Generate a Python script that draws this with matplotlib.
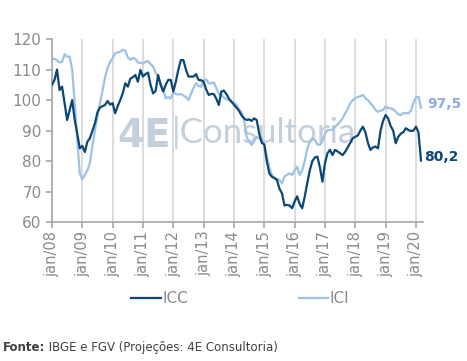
import numpy as np
import matplotlib.pyplot as plt

# monthly values, jan/08 .. mar/20
icc = [105.0, 106.6, 110.0, 103.3, 104.4, 99.0, 93.5, 96.8, 100.0, 93.5, 89.0, 84.2,
       85.0, 83.0, 86.4, 87.5, 90.0, 92.4, 96.0, 97.6, 98.0, 98.4, 99.7, 98.5,
       99.0, 95.7, 98.0, 100.0, 102.2, 105.5, 104.4, 107.0, 107.5, 108.2, 106.0, 109.9,
       107.7, 108.5, 109.0, 105.0, 102.2, 103.0, 108.2, 105.0, 102.8, 105.0, 106.6, 106.6,
       102.8, 106.0, 110.0, 113.1, 113.1, 110.0, 107.7, 107.7, 107.7, 108.5, 106.6, 106.5,
       106.0, 103.5, 101.7, 102.0, 102.0, 100.5, 98.4, 102.8, 103.1, 102.0, 100.5, 99.5,
       98.5, 97.5, 96.5, 95.0, 94.0, 93.5, 93.7, 93.2, 94.0, 93.5, 89.0, 86.0,
       85.5, 80.0, 76.0, 74.9, 74.5, 73.9, 71.0, 69.5, 65.5, 65.7, 65.5, 64.6,
       66.8, 68.5, 66.0, 64.6, 68.4, 72.8, 77.0, 80.0, 81.2, 81.5, 78.0, 73.3,
       79.3, 82.6, 83.7, 82.0, 83.7, 83.2, 82.6, 82.0, 83.1, 84.5, 86.0, 87.5,
       88.0, 88.4, 90.0, 91.3, 89.5, 86.0, 83.7, 84.5, 84.8, 84.2, 90.0, 93.2,
       95.1, 94.0, 91.5, 90.0, 85.9, 88.0, 89.0, 89.5, 90.8, 90.2, 89.9, 90.0,
       91.3, 89.5, 80.2]

ici = [113.5, 113.5, 113.0, 112.3, 112.5, 115.0, 114.2, 114.2, 110.0, 99.0, 87.0, 76.0,
       74.0, 75.5, 77.0, 79.5, 85.0, 90.0, 95.0, 99.0, 103.0, 107.5, 110.5, 112.5,
       113.7, 115.3, 115.6, 115.8, 116.5, 116.2, 114.0, 113.2, 113.8, 113.5, 112.3, 112.2,
       112.0, 112.5, 112.8, 111.8, 111.0, 109.0, 107.5, 105.5, 103.5, 100.6, 101.0, 100.5,
       102.5, 102.0, 101.8, 102.0, 101.5, 101.0, 100.0, 102.0, 104.0, 105.5, 104.6, 104.4,
       106.5, 106.8, 105.5, 105.5, 105.8, 104.0, 102.0, 101.7, 100.8, 100.3, 100.0, 99.5,
       99.0, 98.5, 97.0, 96.0, 93.5, 88.0, 86.5, 85.3, 86.5, 88.0, 87.5, 87.0,
       85.3, 81.5, 78.0, 75.5, 74.4, 74.2, 73.9, 72.8, 75.0, 75.5, 76.0, 75.5,
       77.0, 78.2, 75.5, 77.0, 80.0, 84.0, 86.5, 87.5, 87.0, 85.5, 85.3, 86.5,
       89.0, 90.2, 90.2, 90.3, 91.3, 92.0, 93.0, 94.0, 95.7, 97.0, 99.0, 100.0,
       100.6, 101.0, 101.3, 101.7, 100.6, 100.0, 99.0, 98.0, 96.8, 96.2, 96.5, 96.8,
       97.9, 97.4, 97.3, 97.0, 96.2, 95.3, 95.1, 95.7, 95.7, 95.7, 96.5, 99.0,
       100.9, 101.1, 97.5]

tick_labels = ['jan/08', 'jan/09', 'jan/10', 'jan/11', 'jan/12', 'jan/13', 'jan/14',
               'jan/15', 'jan/16', 'jan/17', 'jan/18', 'jan/19', 'jan/20']

dark = '#0b4776'
light = '#9cc2e5'
grey_txt = '#8a8a8a'
wm = '#c3d0dc'

fig = plt.figure(figsize=(4.67, 3.61), dpi=100)
ax = fig.add_axes([0.1113, 0.3842, 0.7945, 0.5078])

x = np.arange(len(icc))
ax.plot(x, icc, color=dark, lw=1.6, label='ICC', zorder=3)
ax.plot(x, ici, color=light, lw=1.6, label='ICI', zorder=2)

# watermark logo
ax.text(26.0, 84.6, '4E', fontsize=28, fontweight='heavy', color=wm,
        ha='left', va='baseline', zorder=1)
ax.text(47.5, 86.0, '|Consultoria', fontsize=25, fontweight='normal', color=wm,
        ha='left', va='baseline', zorder=1, family='Lato')

ax.set_xlim(0, 146.8)
ax.set_ylim(60, 120)
ax.set_yticks(range(60, 121, 10))
ax.set_xticks(range(0, len(icc), 12))
ax.set_xticklabels(tick_labels, rotation=90)
ax.xaxis.grid(True, color='#d9d9d9', lw=1.3)
ax.set_axisbelow(True)

for s in ['top', 'right']:
    ax.spines[s].set_visible(False)
for s in ['left', 'bottom']:
    ax.spines[s].set_color('#a6a6a6')
    ax.spines[s].set_linewidth(1.2)
ax.tick_params(axis='both', colors='#a6a6a6', length=4, width=1.2, labelsize=11,
               labelcolor=grey_txt)
ax.tick_params(axis='x', labelsize=10.5, pad=2)

ax.text(148.5, 96.5, '97,5', color='#8fabdf', fontsize=10, fontweight='bold',
        ha='left', va='bottom')
ax.text(147.3, 81.3, '80,2', color=dark, fontsize=10, fontweight='bold',
        ha='left', va='center')

fig.legend(loc='center', bbox_to_anchor=(0.515, 0.172), ncol=2, frameon=False,
           fontsize=11, handlelength=1.9, handletextpad=0.1, columnspacing=7.3,
           labelcolor=grey_txt)

src = fig.text(0.006, 0.019, 'Fonte:', fontsize=8.5, fontweight='bold', color='#404040',
               ha='left', va='bottom')
ax.annotate(' IBGE e FGV (Projeções: 4E Consultoria)', xy=(1, 0), xycoords=src,
            fontsize=8.5, color='#404040', ha='left', va='bottom', annotation_clip=False)

fig.savefig('out.png', dpi=100)
